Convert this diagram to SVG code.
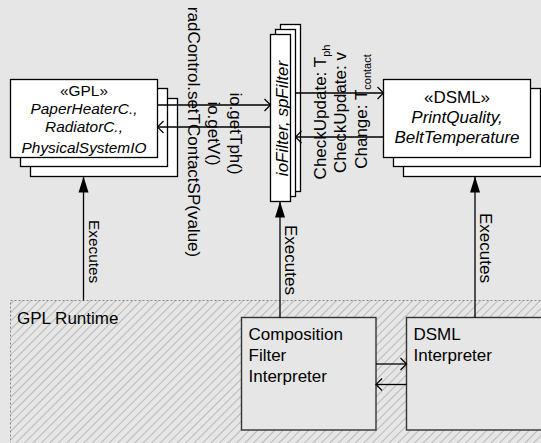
<svg xmlns="http://www.w3.org/2000/svg" width="541" height="443" viewBox="0 0 541 443">
<style>
text{font-family:"Liberation Sans",Arial,sans-serif;fill:#000}
.box{fill:#fff;stroke:#000;stroke-width:1.3}
.lbox{fill:#e6e6e6;stroke:#333;stroke-width:1.4}
.c{fill:none;stroke:#000;stroke-width:1.3}
.it{font-style:italic}
.f17{font-size:17px}
</style>
<defs>
<pattern id="hatch" patternUnits="userSpaceOnUse" width="6" height="6" patternTransform="rotate(45)">
<line x1="0" y1="0" x2="0" y2="6" stroke="#8c8c8c" stroke-width="1"/>
</pattern>
<marker id="open" viewBox="-8 -7 9 14" refX="0" refY="0" markerWidth="9" markerHeight="14" markerUnits="userSpaceOnUse" orient="auto">
<path d="M-6,-6 L0,0 L-6,6" fill="none" stroke="#000" stroke-width="1.2"/>
</marker>
<marker id="tri" viewBox="-17 -6 18 12" refX="0" refY="0" markerWidth="18" markerHeight="12" markerUnits="userSpaceOnUse" orient="auto">
<path d="M0,0 L-16,-5 L-16,5 Z" fill="#000"/>
</marker>
</defs>
<rect x="0" y="0" width="541" height="443" fill="#e6e6e6"/>

<g id="gpl-runtime">
<rect x="10.5" y="300.5" width="540" height="150" fill="#e6e6e6"/>
<rect x="10.5" y="300.5" width="540" height="150" fill="url(#hatch)" stroke="#888" stroke-width="1" stroke-dasharray="2,2"/>
<text x="17" y="323.5" class="f17">GPL Runtime</text>
</g>

<g id="gpl">
<rect class="box" x="30.5" y="98.5" width="147" height="78"/>
<rect class="box" x="20.5" y="88.5" width="147" height="78"/>
<rect class="box" x="10.5" y="79.5" width="147" height="78"/>
<g text-anchor="middle" style="font-size:15.4px">
<text x="84" y="95.5">«GPL»</text>
<text x="84" y="113.5" class="it">PaperHeaterC.,</text>
<text x="84" y="131.5" class="it">RadiatorC.,</text>
<text x="84" y="153" class="it">PhysicalSystemIO</text>
</g>
</g>

<g id="filter">
<rect class="box" x="280.5" y="24.5" width="20" height="167"/>
<rect class="box" x="275.5" y="29.5" width="20" height="167"/>
<rect class="box" x="270.5" y="34.5" width="20" height="167"/>
<text transform="translate(287.5,118.5) rotate(-90)" text-anchor="middle" class="f17 it">ioFilter, spFilter</text>
</g>

<g id="dsml">
<rect class="box" x="403.5" y="98.5" width="147" height="78"/>
<rect class="box" x="393.5" y="88.5" width="147" height="78"/>
<rect class="box" x="383.5" y="79.5" width="147" height="78"/>
<g text-anchor="middle" class="f17">
<text x="457" y="102.5">«DSML»</text>
<text x="457" y="123" class="it">PrintQuality,</text>
<text x="457" y="143" class="it">BeltTemperature</text>
</g>
</g>

<g id="composition-filter-interpreter">
<rect class="lbox" x="241.5" y="317.5" width="134.5" height="112.5"/>
<text x="248.5" y="339.5" class="f17">Composition</text>
<text x="248.5" y="360.5" class="f17">Filter</text>
<text x="248.5" y="381.5" class="f17">Interpreter</text>
</g>

<g id="dsml-interpreter">
<rect class="lbox" x="406.5" y="317.5" width="140" height="112.5"/>
<text x="413.5" y="340" class="f17">DSML</text>
<text x="413.5" y="361" class="f17">Interpreter</text>
</g>

<g id="connectors">
<line class="c" x1="157.5" y1="105" x2="270.5" y2="105" marker-end="url(#open)"/>
<line class="c" x1="270.5" y1="127" x2="157.5" y2="127" marker-end="url(#open)"/>
<line class="c" x1="295.5" y1="93" x2="383.5" y2="93" marker-end="url(#open)"/>
<line class="c" x1="383.5" y1="137" x2="295.5" y2="137" marker-end="url(#open)"/>
<line class="c" x1="376" y1="364" x2="406.5" y2="364" marker-end="url(#open)"/>
<line class="c" x1="406.5" y1="384.5" x2="376" y2="384.5" marker-end="url(#open)"/>
<line class="c" x1="83.5" y1="300.5" x2="83.5" y2="176.5" marker-end="url(#tri)"/>
<line class="c" x1="280" y1="317.5" x2="280" y2="201.5" marker-end="url(#tri)"/>
<line class="c" x1="475" y1="317.5" x2="475" y2="176.5" marker-end="url(#tri)"/>
<g class="f17" text-anchor="middle">
<text transform="translate(230,133.5) rotate(90)">io.getTph()</text>
<text transform="translate(208,133.5) rotate(90)">io.getV()</text>
<text transform="translate(188,132) rotate(90)">radControl.setTContactSP(value)</text>
<text transform="translate(325.5,112) rotate(-90)">CheckUpdate: T<tspan font-size="11" dy="4">ph</tspan></text>
<text transform="translate(346,112.5) rotate(-90)">CheckUpdate: v</text>
<text transform="translate(367,111.5) rotate(-90)">Change: T<tspan font-size="11" dy="4">contact</tspan></text>
</g>
<text transform="translate(88.5,220) rotate(90)" style="font-size:15.4px">Executes</text>
<g class="f17">
<text transform="translate(285,225) rotate(90)">Executes</text>
<text transform="translate(479.5,213) rotate(90)">Executes</text>
</g>
</g>
</svg>
